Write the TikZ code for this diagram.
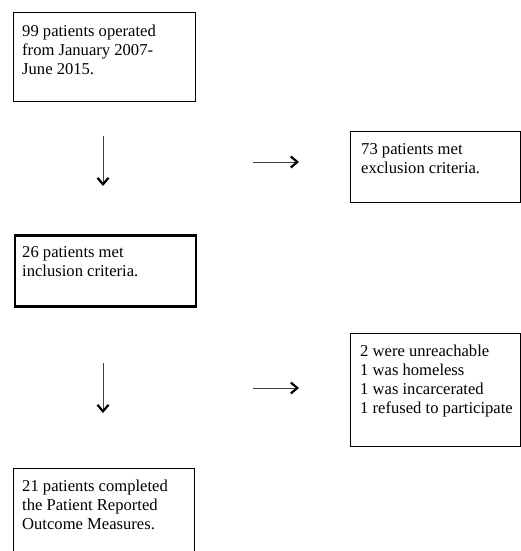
\documentclass[tikz,border=0pt]{standalone}
\usepackage{fontspec}
\setmainfont{Liberation Serif}
\usetikzlibrary{arrows.meta,calc}
\begin{document}
\begin{tikzpicture}[x=1pt,y=-1pt,
  box/.style={draw=black,line width=1pt,inner sep=0pt},
  thickbox/.style={draw=black,line width=2.6pt,inner sep=0pt},
  txt/.style={inner sep=0pt,anchor=north west,align=left,
    font=\fontsize{16.6pt}{19pt}\selectfont},
  flow/.style={draw=black!75,line width=0.9pt,
    -{Straight Barb[length=6.5pt,width=11pt,line width=2.2pt,color=black]}}]
\useasboundingbox (0,0) rectangle (521,551);
\clip (0,0) rectangle (521,551);
% boxes
\node[box,minimum width=182pt,minimum height=89pt,anchor=north west] (b1) at (13,12) {};
\node[thickbox,minimum width=181pt,minimum height=71pt,anchor=north west] (b2) at (13.5,234) {};
\node[box,minimum width=181pt,minimum height=100pt,anchor=north west] (b3) at (13,468) {};
\node[box,minimum width=170pt,minimum height=71pt,anchor=north west] (b4) at (350,131) {};
\node[box,minimum width=170pt,minimum height=113pt,anchor=north west] (b5) at (350,333) {};
% texts
\node[txt] (t1) at ($(b1.north west)+(9,13)$) {99 patients operated\\from January 2007-\\June 2015.};
\node[txt] (t2) at ($(b2.north west)+(8.5,12)$) {26 patients met\\inclusion criteria.};
\node[txt] (t3) at ($(b3.north west)+(9,12)$) {21 patients completed\\the Patient Reported\\Outcome Measures.};
\node[txt] (t4) at ($(b4.north west)+(11,12)$) {73 patients met\\exclusion criteria.};
\node[txt] (t5) at ($(b5.north west)+(10,12)$) {2 were unreachable\\1 was homeless\\1 was incarcerated\\1 refused to participate};
% arrows
\coordinate (d1s) at (103,136); \coordinate (d1e) at (103,186);
\coordinate (r1s) at (253,162); \coordinate (r1e) at (299,162);
\coordinate (d2s) at (103,363); \coordinate (d2e) at (103,413);
\coordinate (r2s) at (253,388); \coordinate (r2e) at (299,388);
\draw[flow] (d1s) -- (d1e);
\draw[flow] (r1s) -- (r1e);
\draw[flow] (d2s) -- (d2e);
\draw[flow] (r2s) -- (r2e);
\end{tikzpicture}
\end{document}
